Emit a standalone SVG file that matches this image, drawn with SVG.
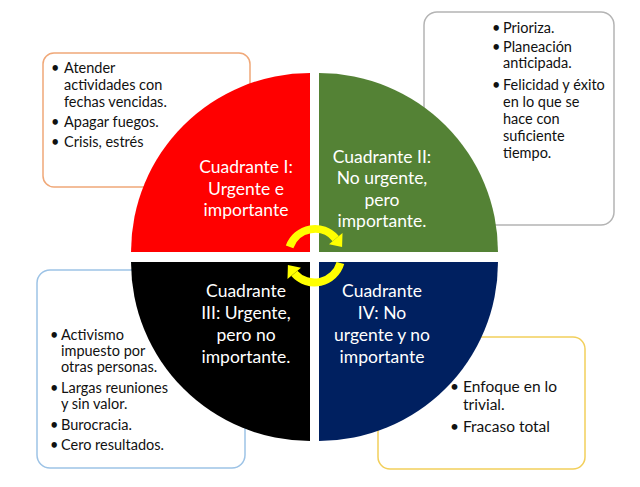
<svg xmlns="http://www.w3.org/2000/svg" width="640" height="487" viewBox="0 0 640 487">
<style>
.box{fill:#fff;stroke-width:1.5}
.bt{font-family:Lato,"Liberation Sans",sans-serif;font-size:14.5px;fill:#111}
.bt4{font-family:Lato,"Liberation Sans",sans-serif;font-size:15.5px;fill:#111}
.qt{font-family:Lato,"Liberation Sans",sans-serif;font-size:17.5px;fill:#fff;text-anchor:middle}
.arr{fill:#FFFF00}
</style>
<rect width="640" height="487" fill="#fff"/>
<g id="box1">
<rect class="box" x="43" y="53" width="207" height="134" rx="11" stroke="#F0A878"/>
<text class="bt"><tspan x="51" y="73">•</tspan><tspan x="64" y="73">Atender</tspan><tspan x="64" y="90">actividades con</tspan><tspan x="64" y="107">fechas vencidas.</tspan><tspan x="51" y="127">•</tspan><tspan x="64" y="127">Apagar fuegos.</tspan><tspan x="51" y="147">•</tspan><tspan x="64" y="147">Crisis, estrés</tspan></text>
</g>
<g id="box2">
<rect class="box" x="424" y="12" width="190" height="213" rx="13" stroke="#B4B4B4"/>
<text class="bt"><tspan x="492" y="33">•</tspan><tspan x="503" y="33">Prioriza.</tspan><tspan x="492" y="52">•</tspan><tspan x="503" y="52">Planeación</tspan><tspan x="503" y="68">anticipada.</tspan><tspan x="492" y="90">•</tspan><tspan x="503" y="90">Felicidad y éxito</tspan><tspan x="503" y="107">en lo que se</tspan><tspan x="503" y="124">hace con</tspan><tspan x="503" y="141">suficiente</tspan><tspan x="503" y="158">tiempo.</tspan></text>
</g>
<g id="box3">
<rect class="box" x="37" y="270" width="208" height="198" rx="13" stroke="#9DC3E6"/>
<text class="bt"><tspan x="50" y="340">•</tspan><tspan x="61" y="340">Activismo</tspan><tspan x="61" y="356">impuesto por</tspan><tspan x="61" y="372">otras personas.</tspan><tspan x="50" y="393">•</tspan><tspan x="61" y="393">Largas reuniones</tspan><tspan x="61" y="409">y sin valor.</tspan><tspan x="50" y="430">•</tspan><tspan x="61" y="430">Burocracia.</tspan><tspan x="50" y="450">•</tspan><tspan x="61" y="450">Cero resultados.</tspan></text>
</g>
<g id="box4">
<rect class="box" x="378" y="337" width="207" height="132" rx="12" stroke="#F2CF5B"/>
<text class="bt4"><tspan x="450" y="392">•</tspan><tspan x="463" y="392">Enfoque en lo</tspan><tspan x="463" y="410">trivial.</tspan><tspan x="450" y="432">•</tspan><tspan x="463" y="432">Fracaso total</tspan></text>
</g>
<g id="q1">
<path d="M310,252 H131 A179,179 0 0 1 310,73 Z" fill="#FF0000"/>
<text class="qt"><tspan x="246" y="173">Cuadrante I:</tspan><tspan x="246" y="195">Urgente e</tspan><tspan x="246" y="216">importante</tspan></text>
</g>
<g id="q2">
<path d="M319,252 V73 A179,179 0 0 1 498,252 Z" fill="#548235"/>
<text class="qt"><tspan x="382" y="163">Cuadrante II:</tspan><tspan x="382" y="184">No urgente,</tspan><tspan x="382" y="206">pero</tspan><tspan x="382" y="227">importante.</tspan></text>
</g>
<g id="q3">
<path d="M310,262 H131 A179,179 0 0 0 310,441 Z" fill="#000000"/>
<text class="qt"><tspan x="246" y="297">Cuadrante</tspan><tspan x="246" y="319">III: Urgente,</tspan><tspan x="246" y="341">pero no</tspan><tspan x="246" y="363">importante.</tspan></text>
</g>
<g id="q4">
<path d="M319,262 H498 A179,179 0 0 1 319,441 Z" fill="#002060"/>
<text class="qt"><tspan x="382" y="297">Cuadrante</tspan><tspan x="382" y="319">IV: No</tspan><tspan x="382" y="341">urgente y no</tspan><tspan x="382" y="363">importante</tspan></text>
</g>
<g id="connectors">
<path d="M289.6,246.8 A27,27 0 0 1 335.7,238.6" fill="none" stroke="#FFFF00" stroke-width="8"/>
<polygon class="arr" points="342.5,233 329,244.3 342.1,247"/>
<path d="M340.4,263 A27,27 0 0 1 294.3,273.4" fill="none" stroke="#FFFF00" stroke-width="8"/>
<polygon class="arr" points="287.5,279 301,267.7 287.9,265"/>
</g>
</svg>
